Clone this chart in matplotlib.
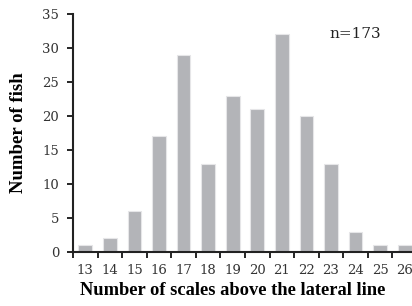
import matplotlib

matplotlib.use("Agg")

import matplotlib.pyplot as plt
import numpy as np

scale_counts = [13, 14, 15, 16, 17, 18, 19, 20, 21, 22, 23, 24, 25, 26]
n_fish = [1, 2, 6, 17, 29, 13, 23, 21, 32, 20, 13, 3, 1, 1]
y_ticks = [0, 5, 10, 15, 20, 25, 30, 35]

W, H = 412, 306
fig = plt.figure(figsize=(W / 100, H / 100), dpi=100)
# axes end right at the figure edge, like the original crop
ax = fig.add_axes([73 / W, 54 / H, 344 / W, 238 / H])

ax.bar(scale_counts, n_fish, width=0.56, color="#b3b4b8",
       edgecolor="#e6e6e8", linewidth=0.8, zorder=2)

ax.set_xlim(scale_counts[0] - 0.5, scale_counts[-1] + 0.5)
ax.set_ylim(0, 35)
ax.set_yticks(y_ticks)
ax.set_xticks(scale_counts)
ax.set_xticks(np.arange(scale_counts[0] - 0.5, scale_counts[-1] + 1), minor=True)

for side in ("top", "right"):
    ax.spines[side].set_visible(False)
for side in ("left", "bottom"):
    ax.spines[side].set_linewidth(1.5)
    ax.spines[side].set_color("#222222")

ax.tick_params(axis="x", which="major", length=0, pad=9)
ax.tick_params(axis="x", which="minor", length=4, width=1.2, direction="out")
ax.tick_params(axis="y", length=4, width=1.2, direction="out", pad=6)

for lab in ax.get_xticklabels() + ax.get_yticklabels():
    lab.set_fontfamily("DejaVu Serif")
    lab.set_fontsize(9.5)
    lab.set_color("#333333")

ax.set_xlabel("Number of scales above the lateral line", fontfamily="Liberation Serif",
              fontweight="bold", fontsize=13.3)
# original label sits a little left of the (cropped) axes centre
ax.xaxis.set_label_coords(0.463, -0.125)
ax.set_ylabel("Number of fish", fontfamily="Liberation Serif",
              fontweight="bold", fontsize=13.5, labelpad=11)

ax.text(0.745, 0.9, "n=173", transform=ax.transAxes, fontfamily="DejaVu Serif",
        fontsize=11, color="#222222")

fig.savefig("out.png", dpi=100)
